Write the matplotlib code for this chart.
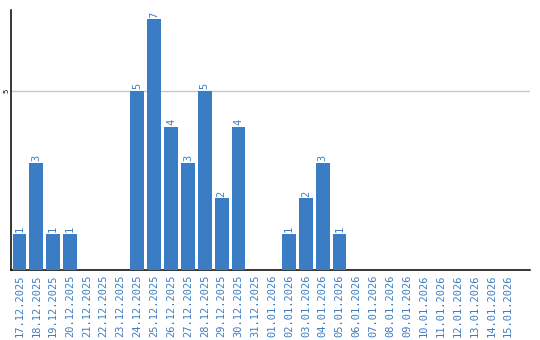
import matplotlib.pyplot as plt

dates = ['17.12.2025', '18.12.2025', '19.12.2025', '20.12.2025', '21.12.2025',
         '22.12.2025', '23.12.2025', '24.12.2025', '25.12.2025', '26.12.2025',
         '27.12.2025', '28.12.2025', '29.12.2025', '30.12.2025', '31.12.2025',
         '01.01.2026', '02.01.2026', '03.01.2026', '04.01.2026', '05.01.2026',
         '06.01.2026', '07.01.2026', '08.01.2026', '09.01.2026', '10.01.2026',
         '11.01.2026', '12.01.2026', '13.01.2026', '14.01.2026', '15.01.2026']
counts = [1, 3, 1, 1, 0, 0, 0, 5, 7, 4, 3, 5, 2, 4, 0,
          0, 1, 2, 3, 1, 0, 0, 0, 0, 0, 0, 0, 0, 0, 0]

blue = '#3b7dc4'

fig = plt.figure(figsize=(5.4, 3.4), dpi=100)
ax = fig.add_axes([11/540, 1 - 270/340, 519/540, 260/340])

x = list(range(len(dates)))
bars = ax.bar(x, counts, width=0.82, color=blue, zorder=3)

for xi, c in zip(x, counts):
    if c > 0:
        ax.text(xi, c + 0.05, str(c), rotation=90, ha='center', va='bottom',
                color=blue, fontsize=7.5, family='DejaVu Sans Mono')

ax.set_xlim(-0.5, 30.3)
ax.set_ylim(0, 7.26)
ax.set_xticks(x)
ax.set_xticklabels(dates, rotation=90, color=blue, fontsize=7.5,
                   family='DejaVu Sans Mono')
ax.set_yticks([5])
ax.set_yticklabels(['5'], rotation=90, fontsize=5, va='center')
ax.tick_params(axis='y', length=0, pad=1)
ax.tick_params(axis='x', length=0, pad=3)
ax.yaxis.grid(True, color='#c8c8c8', linewidth=1, zorder=0)

for s in ['top', 'right']:
    ax.spines[s].set_visible(False)
ax.spines['left'].set_linewidth(1.1)
ax.spines['bottom'].set_linewidth(1.1)

fig.savefig('out.png', dpi=100)
